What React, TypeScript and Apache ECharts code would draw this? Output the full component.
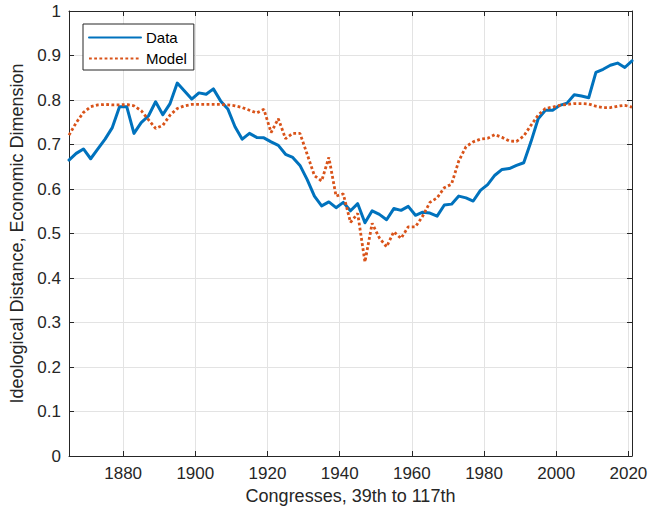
import React, { useEffect, useRef } from "react";
import * as echarts from "echarts";

const years: number[] = [
  1865, 1867, 1869, 1871, 1873, 1875, 1877, 1879, 1881, 1883,
  1885, 1887, 1889, 1891, 1893, 1895, 1897, 1899, 1901, 1903,
  1905, 1907, 1909, 1911, 1913, 1915, 1917, 1919, 1921, 1923,
  1925, 1927, 1929, 1931, 1933, 1935, 1937, 1939, 1941, 1943,
  1945, 1947, 1949, 1951, 1953, 1955, 1957, 1959, 1961, 1963,
  1965, 1967, 1969, 1971, 1973, 1975, 1977, 1979, 1981, 1983,
  1985, 1987, 1989, 1991, 1993, 1995, 1997, 1999, 2001, 2003,
  2005, 2007, 2009, 2011, 2013, 2015, 2017, 2019, 2021,
];

const dataValues: number[] = [
  0.665, 0.680, 0.690, 0.668, 0.690, 0.712, 0.738, 0.785, 0.785, 0.725,
  0.749, 0.764, 0.796, 0.767, 0.792, 0.838, 0.820, 0.802, 0.816, 0.813,
  0.825, 0.798, 0.780, 0.740, 0.712, 0.725, 0.716, 0.715, 0.706, 0.698,
  0.678, 0.671, 0.653, 0.621, 0.584, 0.562, 0.571, 0.558, 0.570, 0.551,
  0.567, 0.524, 0.551, 0.543, 0.531, 0.556, 0.552, 0.561, 0.541, 0.548,
  0.546, 0.539, 0.564, 0.566, 0.584, 0.580, 0.573, 0.597, 0.610, 0.631,
  0.644, 0.646, 0.653, 0.659, 0.706, 0.758, 0.777, 0.777, 0.788, 0.793,
  0.812, 0.809, 0.805, 0.862, 0.869, 0.878, 0.883, 0.873, 0.888,
];

const modelValues: number[] = [
  0.721, 0.749, 0.772, 0.785, 0.789, 0.790, 0.789, 0.789, 0.790, 0.787,
  0.776, 0.756, 0.736, 0.743, 0.766, 0.781, 0.787, 0.790, 0.790, 0.790,
  0.790, 0.790, 0.789, 0.787, 0.783, 0.777, 0.771, 0.779, 0.727, 0.758,
  0.713, 0.725, 0.725, 0.678, 0.630, 0.618, 0.671, 0.584, 0.589, 0.525,
  0.545, 0.436, 0.523, 0.490, 0.470, 0.504, 0.489, 0.515, 0.515, 0.539,
  0.570, 0.580, 0.603, 0.611, 0.663, 0.695, 0.706, 0.712, 0.714, 0.722,
  0.716, 0.708, 0.707, 0.719, 0.743, 0.766, 0.781, 0.784, 0.788, 0.790,
  0.792, 0.792, 0.791, 0.786, 0.783, 0.783, 0.786, 0.788, 0.784,
];

const seriesNames: string[] = ["Data", "Model"];
const xAxisTitle = "Congresses, 39th to 117th";
const yAxisTitle = "Ideological Distance, Economic Dimension";

const FONT = "'Liberation Sans', Arial, Helvetica, sans-serif";
const AXIS_COLOR = "#262626";
const GRID_COLOR = "#e3e3e3";

export default function App() {
  const ref = useRef<HTMLDivElement>(null);

  useEffect(() => {
    if (!ref.current) return;
    const chart = echarts.init(ref.current, undefined, { renderer: "svg" });

    const xBase = {
      type: "value" as const,
      min: 1865,
      max: 2021,
      splitNumber: 8,
      axisLine: { show: true, onZero: false, lineStyle: { color: AXIS_COLOR, width: 1 } },
      axisTick: { show: true, inside: true, length: 5, lineStyle: { color: AXIS_COLOR, width: 1 } },
    };
    const yBase = {
      type: "value" as const,
      min: 0,
      max: 1,
      interval: 0.1,
      axisLine: { show: true, onZero: false, lineStyle: { color: AXIS_COLOR, width: 1 } },
      axisTick: { show: true, inside: true, length: 5, lineStyle: { color: AXIS_COLOR, width: 1 } },
    };

    chart.setOption({
      animation: false,
      backgroundColor: "#ffffff",
      textStyle: { fontFamily: FONT },
      grid: { left: 69, right: 20, top: 11, bottom: 60, containLabel: false },
      legend: {
        data: seriesNames,
        orient: "vertical",
        left: 83,
        top: 24,
        itemWidth: 52,
        itemHeight: 14,
        itemGap: 6,
        padding: [6, 7, 4, 5],
        borderColor: AXIS_COLOR,
        borderWidth: 1,
        backgroundColor: "#ffffff",
        itemStyle: { opacity: 0 },
        textStyle: { fontSize: 15, color: "#000000", fontFamily: FONT },
      },
      xAxis: [
        {
          ...xBase,
          position: "bottom",
          name: xAxisTitle,
          nameLocation: "middle",
          nameGap: 31,
          nameTextStyle: { fontSize: 18, color: AXIS_COLOR, fontFamily: FONT },
          axisLabel: {
            show: true,
            color: AXIS_COLOR,
            fontSize: 17,
            margin: 9,
            fontFamily: FONT,
            showMinLabel: false,
            showMaxLabel: false,
            formatter: (v: number) => (v % 20 === 0 ? String(v) : ""),
          },
          splitLine: { show: true, lineStyle: { color: GRID_COLOR, width: 1 } },
        },
        {
          ...xBase,
          position: "top",
          axisLabel: { show: false },
          splitLine: { show: false },
        },
      ],
      yAxis: [
        {
          ...yBase,
          position: "left",
          name: yAxisTitle,
          nameLocation: "middle",
          nameGap: 39,
          nameTextStyle: { fontSize: 18, color: AXIS_COLOR, fontFamily: FONT },
          axisLabel: {
            show: true,
            color: AXIS_COLOR,
            fontSize: 17,
            margin: 8,
            fontFamily: FONT,
            formatter: (v: number) => String(Math.round(v * 10) / 10),
          },
          splitLine: { show: true, lineStyle: { color: GRID_COLOR, width: 1 } },
        },
        {
          ...yBase,
          position: "right",
          axisLabel: { show: false },
          splitLine: { show: false },
        },
      ],
      series: [
        {
          name: seriesNames[0],
          type: "line",
          xAxisIndex: 0,
          yAxisIndex: 0,
          data: years.map((y, i) => [y, dataValues[i]]),
          showSymbol: false,
          symbol: "none",
          lineStyle: { color: "#0072BD", width: 3, cap: "round", join: "round" },
          itemStyle: { color: "#0072BD" },
          z: 3,
        },
        {
          name: seriesNames[1],
          type: "line",
          xAxisIndex: 0,
          yAxisIndex: 0,
          data: years.map((y, i) => [y, modelValues[i]]),
          showSymbol: false,
          symbol: "none",
          lineStyle: { color: "#D95319", width: 2.8, type: [2.8, 2.4], cap: "butt" },
          itemStyle: { color: "#D95319" },
          z: 4,
        },
      ],
    });

    return () => chart.dispose();
  }, []);

  return (
    <div
      ref={ref}
      style={{ position: "fixed", left: 0, top: 0, width: 652, height: 516, background: "#fff" }}
    />
  );
}
